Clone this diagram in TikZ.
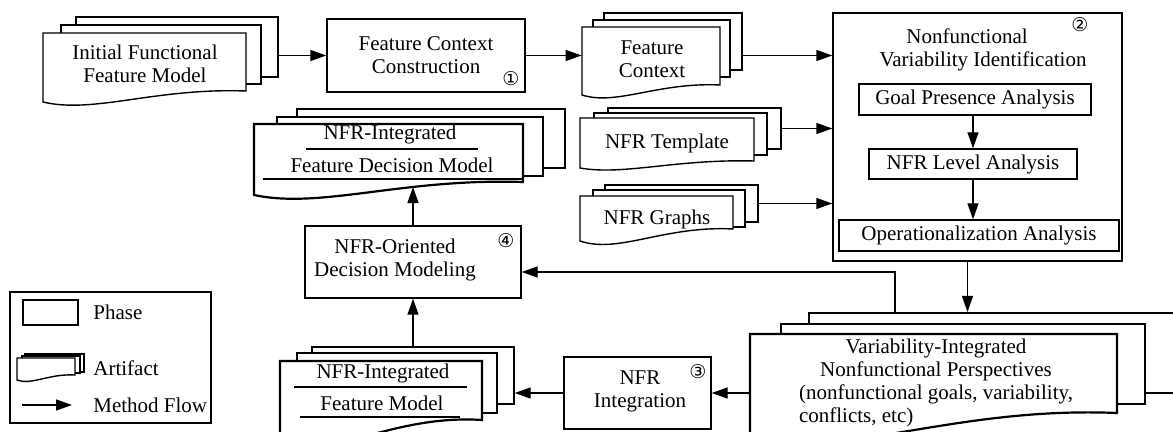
\documentclass[tikz,border=0pt]{standalone}
\usepackage{fontspec}
\setmainfont{Liberation Serif}
\newfontfamily\numfont{DejaVu Sans}
\usetikzlibrary{arrows.meta,fit}

\tikzset{
  phase/.style={draw, line width=0.7pt, inner sep=0pt, fill=white},
  layer/.style={draw, line width=0.7pt, inner sep=0pt, fill=white},
  blayer/.style={draw, line width=1.1pt, inner sep=0pt, fill=white},
  docf/.style={draw, fill=white, line width=0.7pt},
  bdocf/.style={draw, fill=white, line width=1.1pt},
  region/.style={inner sep=0pt},
  txt/.style={font=\fontsize{10.5}{11.5}\selectfont, align=center, inner sep=0pt},
  num/.style={font=\numfont\fontsize{9.5}{9.5}\selectfont, inner sep=0pt},
  flow/.style={line width=0.7pt, -{Triangle[length=8pt,width=5.5pt]}},
  uline/.style={line width=1.1pt},
}

% back layer: style, name, x1, y1, x2, y2
\newcommand\backlayer[6]{\node[#1, fit={(#3,#4)(#5,#6)}] (#2) {};}
% wavy front: style, name, xl, yt, xr, yr, yl
\newcommand\docfront[7]{%
  \draw[#1] (#3,#4) -- (#5,#4) -- (#5,#6)
    .. controls ({#3+0.55*(#5-#3)},{#6-0.3*(#7-#6)}) and ({#3+0.25*(#5-#3)},{#7+1.1*(#7-#6)}) .. (#3,#7)
    coordinate[pos=0.34] (#2-b) -- cycle;
  \node[region, fit={(#3,#4)(#5,#6)}] (#2) {};}

\begin{document}
\begin{tikzpicture}[x=0.5pt,y=-0.5pt]
\clip (0,0) rectangle (1173,432);

% Initial Functional Feature Model
\backlayer{layer}{ini3}{76}{17}{278}{77}
\backlayer{layer}{ini2}{61}{25}{261}{84}
\docfront{docf}{ini}{43}{33}{246}{91}{102}
\node[txt] (ini-t) at (145,64) {Initial Functional\\Feature Model};

% Feature Context Construction
\node[phase, fit={(327,19)(525,92)}] (fcc) {};
\node[txt] (fcc-t) at (fcc.center) {Feature Context\\Construction};
\node[num] (n1) at (511,79) {①};

% Feature Context
\backlayer{layer}{fcx3}{604}{13}{742}{70}
\backlayer{layer}{fcx2}{593}{20}{730}{77}
\docfront{docf}{fcx}{582}{27}{720}{85}{95}
\node[txt] (fcx-t) at (652,59) {Feature\\Context};

% Nonfunctional Variability Identification
\node[phase, fit={(833,13)(1122,261)}] (nfv) {};
\node[txt] (nfv-t) at (975,50) {Nonfunctional\hspace*{8pt}\\\hspace*{8pt}Variability Identification};
\node[num] (n2) at (1080,25) {②};
\node[phase, fit={(859,84)(1091,115)}] (gpa) {};
\node[txt] at (gpa.center) {Goal Presence Analysis};
\node[phase, fit={(869,149)(1077,179)}] (nla) {};
\node[txt] at (nla.center) {NFR Level Analysis};
\node[phase, fit={(839,220)(1119,251)}] (opa) {};
\node[txt] at (opa.center) {Operationalization Analysis};
\draw[flow] (nla.north |- gpa.south) -- (nla.north);
\draw[flow] (nla.south) -- (nla.south |- opa.north);

% NFR Template
\backlayer{layer}{tpl3}{608}{108}{781}{149}
\backlayer{layer}{tpl2}{594}{113}{767}{155}
\docfront{docf}{tpl}{580}{118}{754}{161}{168}
\node[txt] (tpl-t) at (667,143) {NFR Template};

% NFR Graphs
\backlayer{layer}{grf3}{605}{185}{758}{222}
\backlayer{layer}{grf2}{593}{190}{745}{227}
\docfront{docf}{grf}{580}{196}{733}{229}{241}
\node[txt] (grf-t) at (657,219) {NFR Graphs};

% NFR-Integrated Feature Decision Model
\backlayer{layer}{fdm3}{297}{109}{565}{168}
\backlayer{layer}{fdm2}{277}{117}{543}{176}
\docfront{bdocf}{fdm}{254}{124}{523}{182}{195}
\node[txt] (fdm-t1) at (390,134) {NFR-Integrated};
\node[txt] (fdm-t2) at (392,165) {Feature Decision Model};
\coordinate (fdm-u1a) at (306,149); \coordinate (fdm-u1b) at (478,149);
\coordinate (fdm-u2a) at (263,179); \coordinate (fdm-u2b) at (522,179);
\draw[uline] (fdm-u1a) -- (fdm-u1b);
\draw[uline] (fdm-u2a) -- (fdm-u2b);

% NFR-Oriented Decision Modeling
\node[phase, fit={(305,226)(521,298)}] (nod) {};
\node[txt] (nod-t) at (395,260) {NFR-Oriented\\Decision Modeling};
\node[num] (n4) at (506,241) {④};

% Variability-Integrated Nonfunctional Perspectives
\backlayer{blayer}{var3}{809}{313}{1200}{393}
\backlayer{blayer}{var2}{781}{324}{1145}{404}
\docfront{bdocf}{var}{750}{334}{1117}{413}{436}
\node[txt] (var-t) at (936,383) {Variability-Integrated\\Nonfunctional Perspectives\\(nonfunctional goals, variability,\\\rlap{conflicts, etc)}\phantom{(nonfunctional goals, variability,}};

% NFR Integration
\node[phase, fit={(564,357)(711,429)}] (nfi) {};
\node[txt] (nfi-t) at (640,391) {NFR\\Integration};
\node[num] (n3) at (698,372) {③};

% NFR-Integrated Feature Model
\backlayer{layer}{fm3}{312}{347}{514}{404}
\backlayer{layer}{fm2}{297}{353}{497}{413}
\docfront{bdocf}{fm}{280}{361}{482}{420}{440}
\node[txt] (fm-t1) at (383,373) {NFR-Integrated};
\node[txt] (fm-t2) at (382,403) {Feature Model};
\coordinate (fm-u1a) at (294,387); \coordinate (fm-u1b) at (467,387);
\coordinate (fm-u2a) at (300,417); \coordinate (fm-u2b) at (460,417);
\draw[uline] (fm-u1a) -- (fm-u1b);
\draw[uline] (fm-u2a) -- (fm-u2b);

% Legend
\node[draw, line width=0.6pt, inner sep=0pt, fit={(10,292)(211,423)}] (leg) {};
\node[phase, fit={(23,300)(78,325)}] (lgp) {};
\node[txt, anchor=west] (lgp-t) at (93,312) {Phase};
\backlayer{layer}{lga3}{25}{354}{84}{372}
\backlayer{layer}{lga2}{22}{356}{80}{373}
\docfront{docf}{lga}{17}{358}{75}{375}{380}
\node[txt, anchor=west] (lga-t) at (93,368) {Artifact};
\node[txt, anchor=west] (lgf-t) at (93,405) {Method Flow};
\coordinate (lgf-s) at (22,405);
\draw[flow] (lgf-s) -- ([xshift=-10.5pt]lgf-t.west);

% Method flow connectors
\draw[flow] (ini3.east |- fcc.west) -- (fcc.west);
\draw[flow] (fcc.east) -- (fcx.west |- fcc.east);
\draw[flow] (fcx3.east |- fcc.east) -- (nfv.west |- fcc.east);
\draw[flow] (tpl3.east) -- (nfv.west |- tpl3.east);
\draw[flow] (grf3.east) -- (nfv.west |- grf3.east);
\draw[flow] ([xshift=-5pt]nfv.south) -- ([xshift=-5pt]nfv.south |- var3.north);
\draw[flow] ([xshift=43.5pt]var3.north west) |- ([yshift=-5pt]nod.east);
\draw[flow] (var.west |- nfi.east) -- (nfi.east);
\draw[flow] (nfi.west) -- (fm3.east |- nfi.west);
\draw[flow] (fm3.north) -- (fm3.north |- nod.south);
\draw[flow] (nod.north) -- (nod.north |- fdm-b);
\end{tikzpicture}
\end{document}
